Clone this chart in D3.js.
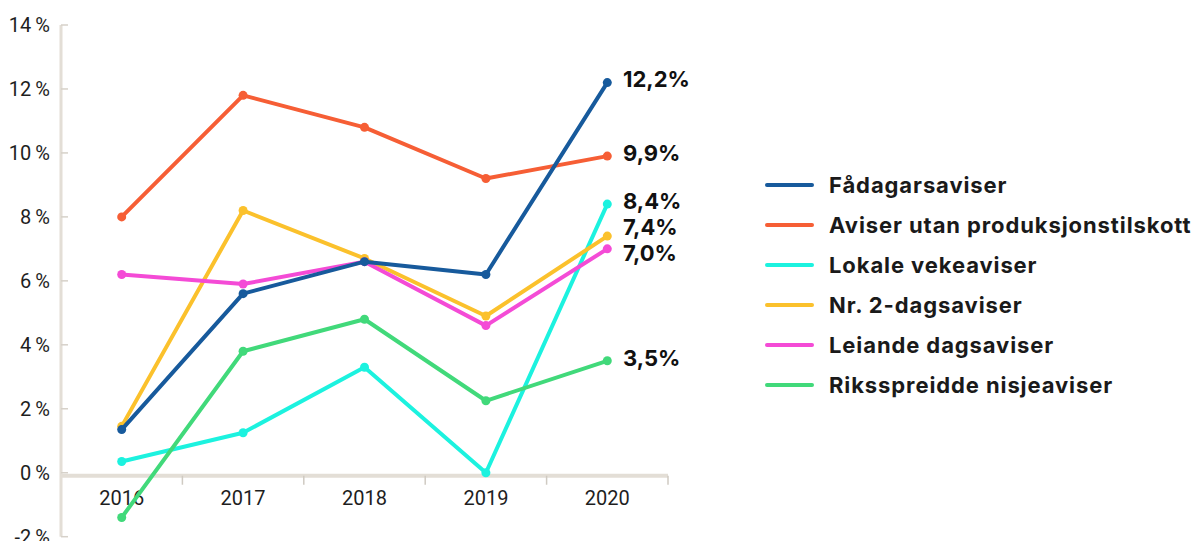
<!DOCTYPE html>
<html>
<head>
<meta charset="utf-8">
<script src="https://cdn.jsdelivr.net/npm/d3@7"></script>
<style>
html,body{margin:0;padding:0;background:#fff;}
svg{display:block;font-family:Roboto,"Noto Sans",sans-serif;}
.bold{font-family:Inter,Roboto,sans-serif;font-weight:700;}
</style>
</head>
<body>
<svg id="chart" width="1196" height="541"></svg>
<script>
const years = ["2016","2017","2018","2019","2020"];
const seriesNames = ["Fådagarsaviser","Aviser utan produksjonstilskott","Lokale vekeaviser","Nr. 2-dagsaviser","Leiande dagsaviser","Riksspreidde nisjeaviser"];
const seriesColors = ["#175a9c","#f65e35","#1cf2df","#fbc12c","#f44bd6","#41d97a"];
const fadagars = [1.35, 5.6, 6.6, 6.2, 12.2];
const utanProd = [8.0, 11.8, 10.8, 9.2, 9.9];
const lokale = [0.35, 1.25, 3.3, 0.0, 8.4];
const nr2 = [1.45, 8.2, 6.7, 4.9, 7.4];
const leiande = [6.2, 5.9, 6.6, 4.6, 7.0];
const riks = [-1.4, 3.8, 4.8, 2.25, 3.5];
const endLabels = ["12,2%","9,9%","8,4%","7,4%","7,0%","3,5%"];
const yTicks = [-2,0,2,4,6,8,10,12,14];
const yTickLabels = ["-2\u2009%","0\u2009%","2\u2009%","4\u2009%","6\u2009%","8\u2009%","10\u2009%","12\u2009%","14\u2009%"];

const values = [fadagars, utanProd, lokale, nr2, leiande, riks];
const series = seriesNames.map((n,i)=>({name:n,color:seriesColors[i],values:values[i],label:endLabels[i],idx:i}));

const svg = d3.select("#chart");
const x = d3.scaleBand().domain(years).range([61,668]);
const y = d3.scaleLinear().domain([-2,14]).range([536.7,25]);
const axisColor = "#e3ded6";

// y axis
svg.append("line").attr("x1",61).attr("x2",61).attr("y1",y(14)).attr("y2",y(-2))
  .attr("stroke",axisColor).attr("stroke-width",3);
const yg = svg.append("g");
yTicks.forEach((t,i)=>{
  yg.append("line").attr("x1",61).attr("x2",68).attr("y1",y(t)).attr("y2",y(t))
    .attr("stroke","#d6d1c9").attr("stroke-width",1.5);
  yg.append("text").attr("x",50).attr("y",y(t)).attr("dy","0.36em")
    .attr("text-anchor","end").attr("font-size",20).attr("fill","#1e1e1e").text(yTickLabels[i]);
});

// x axis
const x0 = y(0)+3;
svg.append("line").attr("x1",61).attr("x2",668).attr("y1",x0).attr("y2",x0)
  .attr("stroke",axisColor).attr("stroke-width",4);
const bounds = years.map(d=>x(d)+x.bandwidth());
bounds.forEach(b=>{
  svg.append("line").attr("x1",b).attr("x2",b).attr("y1",x0).attr("y2",x0+9)
    .attr("stroke","#cfcac2").attr("stroke-width",1.5);
});
years.forEach(d=>{
  svg.append("text").attr("x",x(d)+x.bandwidth()/2).attr("y",498).attr("dy","0.36em")
    .attr("text-anchor","middle").attr("font-size",20).attr("fill","#1e1e1e").text(d);
});

// lines
const line = d3.line().x((v,i)=>x(years[i])+x.bandwidth()/2).y(v=>y(v));
const drawOrder = [2,3,4,5,1,0];
drawOrder.forEach(k=>{
  const s = series[k];
  const g = svg.append("g");
  g.append("path").attr("d",line(s.values)).attr("fill","none").attr("stroke",s.color)
    .attr("stroke-width",4).attr("stroke-linejoin","round").attr("stroke-linecap","round");
  g.selectAll("circle").data(s.values).join("circle")
    .attr("cx",(v,i)=>x(years[i])+x.bandwidth()/2).attr("cy",v=>y(v)).attr("r",4.5).attr("fill",s.color);
});

// end labels with collision avoidance
const lab = series.map(s=>({s, y:y(s.values[4])})).sort((a,b)=>a.y-b.y);
const minGap = 26;
for(let it=0;it<50;it++){
  for(let i=1;i<lab.length;i++){
    const d = lab[i].y-lab[i-1].y;
    if(d<minGap){ const p=(minGap-d)/2; lab[i].y+=p; lab[i-1].y-=p; }
  }
}
lab.forEach(l=>{
  svg.append("text").attr("class","bold").attr("x",623).attr("y",l.y-3).attr("dy","0.36em")
    .attr("font-size",22).attr("fill","#111").text(l.s.label);
});

// legend
const lg = svg.append("g");
series.forEach((s,i)=>{
  const ly = 185 + i*40;
  lg.append("line").attr("x1",767).attr("x2",812).attr("y1",ly).attr("y2",ly)
    .attr("stroke",s.color).attr("stroke-width",4).attr("stroke-linecap","round");
  lg.append("text").attr("class","bold").attr("x",829).attr("y",ly).attr("dy","0.36em")
    .attr("font-size",22).attr("letter-spacing","0.9px").attr("fill","#1a1a1a").text(s.name);
});
</script>
</body>
</html>
